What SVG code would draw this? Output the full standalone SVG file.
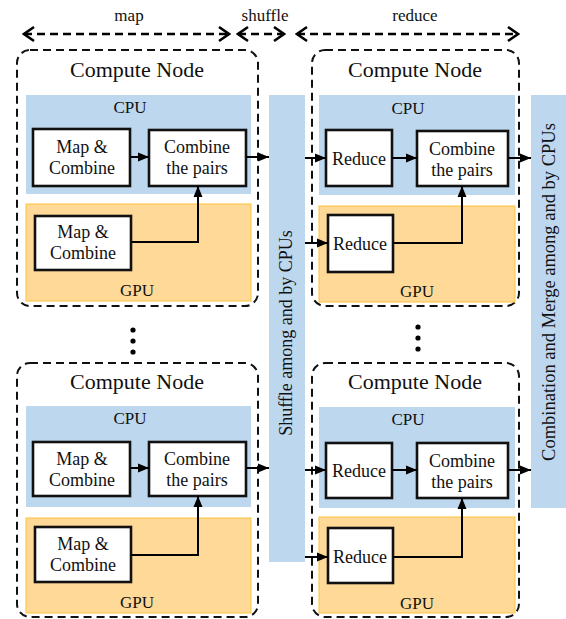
<svg xmlns="http://www.w3.org/2000/svg" width="566" height="619" viewBox="0 0 566 619">
<defs>
<marker id="ah" markerUnits="userSpaceOnUse" markerWidth="12" markerHeight="10" refX="11" refY="5" orient="auto">
<path d="M0,0.5 L11,5 L0,9.5 Z" fill="#000"/>
</marker>
<marker id="chev" markerUnits="userSpaceOnUse" markerWidth="14" markerHeight="18" refX="12" refY="9" orient="auto-start-reverse">
<path d="M2,2 L12,9 L2,16" fill="none" stroke="#000" stroke-width="2.6" stroke-dasharray="none"/>
</marker>
<style>
text{font-family:"Liberation Serif","Times New Roman",serif;fill:#111;text-anchor:middle}
.node{fill:#fff;stroke:#111;stroke-width:2;stroke-dasharray:8 5}
.cpu{fill:#bdd7ee}
.gpu{fill:#fed997;stroke:#fcc33a;stroke-width:1}
.box{fill:#fff;stroke:#111;stroke-width:2.6}
.t22{font-size:22px}
.t17{font-size:17px}
.t18{font-size:18px}
.span{stroke:#000;stroke-width:2.4;stroke-dasharray:8 5;fill:none}
.c{stroke:#000;stroke-width:2;fill:none;marker-end:url(#ah)}
</style>
</defs>

<g id="phases">
<line class="span" x1="24" y1="34" x2="229" y2="34" marker-start="url(#chev)" marker-end="url(#chev)"/>
<line class="span" x1="238" y1="34" x2="284" y2="34" marker-start="url(#chev)" marker-end="url(#chev)"/>
<line class="span" x1="297" y1="34" x2="518" y2="34" marker-start="url(#chev)" marker-end="url(#chev)"/>
<text class="t17" x="129" y="21">map</text>
<text class="t17" x="265" y="21">shuffle</text>
<text class="t17" x="415" y="21">reduce</text>
</g>

<g id="shuffle-band">
<rect class="cpu" x="269" y="95" width="36" height="467"/>
<text class="t18" transform="translate(292,333) rotate(-90)">Shuffle among and by CPUs</text>
</g>

<g id="merge-band">
<rect class="cpu" x="531" y="95" width="35" height="413"/>
<text class="t18" transform="translate(555,292) rotate(-90)" style="font-size:18.5px">Combination and Merge among and by CPUs</text>
</g>

<g id="map-node-1">
<rect class="node" x="17" y="50" width="241" height="256" rx="13"/>
<text class="t22" x="137" y="77">Compute Node</text>
<rect class="cpu" x="26" y="95" width="225" height="99"/>
<text class="t17" x="130" y="113">CPU</text>
<rect class="gpu" x="26" y="204" width="225" height="97"/>
<text class="t17" x="137" y="296">GPU</text>
<g id="m1-cpu-map"><rect class="box" x="33" y="129" width="97" height="57"/><text class="t18" x="82" y="153">Map &amp;</text><text class="t18" x="82" y="174">Combine</text></g>
<g id="m1-combine"><rect class="box" x="149" y="130" width="97" height="56"/><text class="t18" x="197" y="153">Combine</text><text class="t18" x="197" y="174">the pairs</text></g>
<g id="m1-gpu-map"><rect class="box" x="35" y="216" width="96" height="54"/><text class="t18" x="83" y="238">Map &amp;</text><text class="t18" x="83" y="259">Combine</text></g>
</g>

<g id="map-node-2">
<rect class="node" x="17" y="363" width="241" height="254" rx="13"/>
<text class="t22" x="137" y="389">Compute Node</text>
<rect class="cpu" x="26" y="406" width="225" height="101"/>
<text class="t17" x="130" y="424">CPU</text>
<rect class="gpu" x="26" y="518" width="225" height="95"/>
<text class="t17" x="137" y="608">GPU</text>
<g id="m2-cpu-map"><rect class="box" x="33" y="442" width="97" height="54"/><text class="t18" x="82" y="465">Map &amp;</text><text class="t18" x="82" y="486">Combine</text></g>
<g id="m2-combine"><rect class="box" x="149" y="442" width="97" height="54"/><text class="t18" x="197" y="465">Combine</text><text class="t18" x="197" y="486">the pairs</text></g>
<g id="m2-gpu-map"><rect class="box" x="35" y="527" width="96" height="55"/><text class="t18" x="83" y="550">Map &amp;</text><text class="t18" x="83" y="571">Combine</text></g>
</g>

<g id="reduce-node-1">
<rect class="node" x="312" y="50" width="207" height="256" rx="13"/>
<text class="t22" x="415" y="77">Compute Node</text>
<rect class="cpu" x="319" y="95" width="196" height="100"/>
<text class="t17" x="408" y="114">CPU</text>
<rect class="gpu" x="319" y="206" width="196" height="96"/>
<text class="t17" x="417" y="297">GPU</text>
<g id="r1-cpu-reduce"><rect class="box" x="326" y="130" width="66" height="56"/><text class="t18" x="359" y="165">Reduce</text></g>
<g id="r1-combine"><rect class="box" x="417" y="131" width="91" height="55"/><text class="t18" x="462" y="155">Combine</text><text class="t18" x="462" y="176">the pairs</text></g>
<g id="r1-gpu-reduce"><rect class="box" x="328" y="215" width="65" height="57"/><text class="t18" x="360" y="250">Reduce</text></g>
</g>

<g id="reduce-node-2">
<rect class="node" x="312" y="363" width="207" height="254" rx="13"/>
<text class="t22" x="415" y="389">Compute Node</text>
<rect class="cpu" x="319" y="407" width="196" height="101"/>
<text class="t17" x="408" y="425">CPU</text>
<rect class="gpu" x="319" y="517" width="196" height="96"/>
<text class="t17" x="417" y="609">GPU</text>
<g id="r2-cpu-reduce"><rect class="box" x="326" y="443" width="66" height="55"/><text class="t18" x="359" y="477">Reduce</text></g>
<g id="r2-combine"><rect class="box" x="417" y="443" width="91" height="55"/><text class="t18" x="462" y="467">Combine</text><text class="t18" x="462" y="488">the pairs</text></g>
<g id="r2-gpu-reduce"><rect class="box" x="328" y="528" width="65" height="55"/><text class="t18" x="360" y="563">Reduce</text></g>
</g>

<g id="ellipses">
<circle cx="133" cy="330" r="2.6" fill="#000"/>
<circle cx="133" cy="341" r="2.6" fill="#000"/>
<circle cx="133" cy="352" r="2.6" fill="#000"/>
<circle cx="418" cy="327" r="2.6" fill="#000"/>
<circle cx="418" cy="338" r="2.6" fill="#000"/>
<circle cx="418" cy="349" r="2.6" fill="#000"/>
</g>

<g id="connectors">
<line class="c" x1="130" y1="157" x2="149" y2="157"/>
<line class="c" x1="246" y1="157" x2="269" y2="157"/>
<polyline class="c" points="131,242 198,242 198,186"/>
<line class="c" x1="130" y1="468" x2="149" y2="468"/>
<line class="c" x1="246" y1="468" x2="269" y2="468"/>
<polyline class="c" points="131,555 198,555 198,496"/>
<line class="c" x1="305" y1="158" x2="326" y2="158"/>
<line class="c" x1="392" y1="158" x2="417" y2="158"/>
<line class="c" x1="508" y1="158" x2="531" y2="158"/>
<line class="c" x1="305" y1="243" x2="328" y2="243"/>
<polyline class="c" points="393,243 462,243 462,186"/>
<line class="c" x1="305" y1="470" x2="326" y2="470"/>
<line class="c" x1="392" y1="470" x2="417" y2="470"/>
<line class="c" x1="508" y1="470" x2="531" y2="470"/>
<line class="c" x1="305" y1="557" x2="328" y2="557"/>
<polyline class="c" points="393,557 462,557 462,498"/>
</g>
</svg>
